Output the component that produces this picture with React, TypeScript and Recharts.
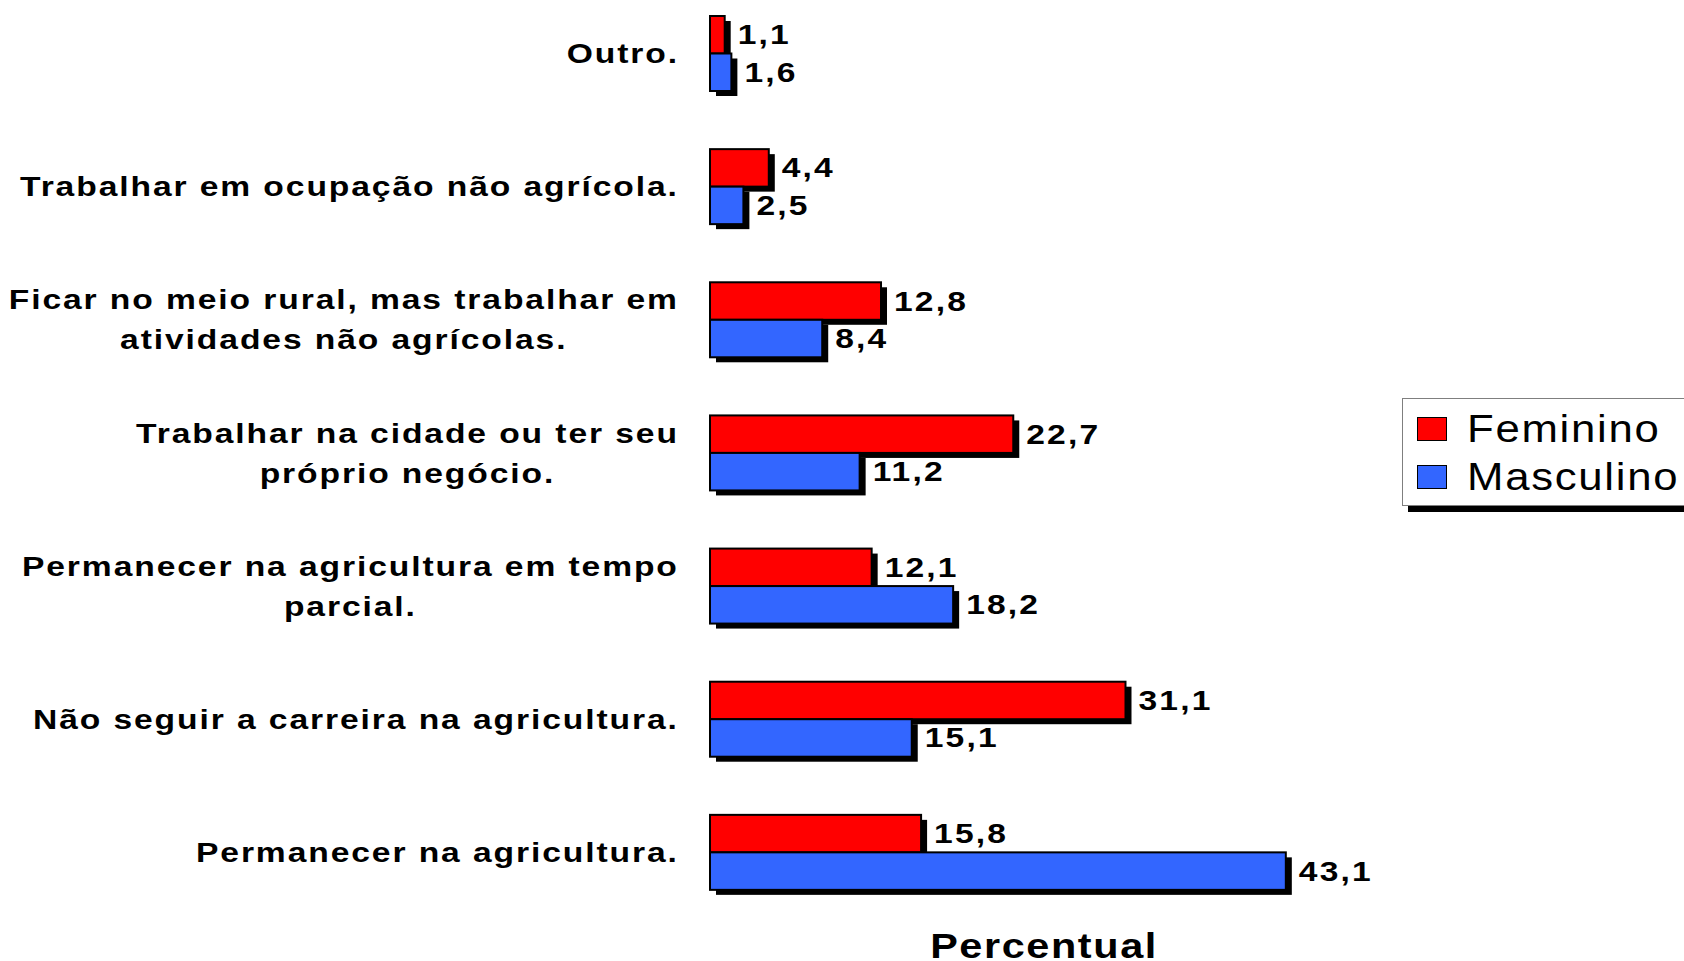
import { BarChart, Bar, XAxis, YAxis, Legend, LabelList } from "recharts";

const categories = [
  "Outro.",
  "Trabalhar em ocupação não agrícola.",
  "Ficar no meio rural, mas trabalhar em\natividades não agrícolas.",
  "Trabalhar na cidade ou ter seu\npróprio negócio.",
  "Permanecer na agricultura em tempo\nparcial.",
  "Não seguir a carreira na agricultura.",
  "Permanecer na agricultura.",
];
const feminino = [1.1, 4.4, 12.8, 22.7, 12.1, 31.1, 15.8];
const masculino = [1.6, 2.5, 8.4, 11.2, 18.2, 15.1, 43.1];

const data = categories.map((name, i) => ({
  name,
  Feminino: feminino[i],
  Masculino: masculino[i],
}));

const RED = "#ff0000";
const BLUE = "#3366ff";
const FONT = '"Liberation Sans", Arial, sans-serif';
const YAXIS_W = 710;
const LABEL_RIGHT = 679;
const TICK_SIZE = 28;
const TICK_SPACING = 1.6;
const STRETCH = 1.2;

let measureCtx: CanvasRenderingContext2D | null = null;
function textWidth(s: string) {
  if (!measureCtx) {
    measureCtx = document.createElement("canvas").getContext("2d");
  }
  if (!measureCtx) return s.length * 18;
  measureCtx.font = `bold ${TICK_SIZE}px ${FONT}`;
  (measureCtx as any).letterSpacing = `${TICK_SPACING}px`;
  return measureCtx.measureText(s).width * STRETCH;
}

function CategoryTick(props: any) {
  const { y, payload } = props;
  const lines = String(payload.value).split("\n");
  const w = Math.max(...lines.map(textWidth));
  const cx = LABEL_RIGHT - w / 2;
  const lineH = 40;
  const top = y - ((lines.length - 1) * lineH) / 2;
  return (
    <g>
      {lines.map((ln, i) => (
        <g key={i} transform={`translate(${cx},${top + i * lineH}) scale(${STRETCH},1)`}>
          <text
            x={0}
            y={0}
            textAnchor="middle"
            dominantBaseline="central"
            fontFamily={FONT}
            fontWeight="bold"
            fontSize={TICK_SIZE}
            letterSpacing={TICK_SPACING}
            fill="#000"
          >
            {ln}
          </text>
        </g>
      ))}
    </g>
  );
}

function ShadowBar(props: any) {
  const { x, y, width, height, fill } = props;
  if (width == null || height == null) return null;
  return (
    <g>
      <rect x={x + 6} y={y + 5} width={width} height={height} fill="#000" />
      <rect x={x} y={y} width={width} height={height} fill={fill} stroke="#000" strokeWidth={2} />
    </g>
  );
}

function ValueLabel(props: any) {
  const { x, y, width, height, value } = props;
  return (
    <g transform={`translate(${x + width + 13},${y + height / 2}) scale(${STRETCH},1)`}>
      <text
        x={0}
        y={0}
        dominantBaseline="central"
        fontFamily={FONT}
        fontWeight="bold"
        fontSize={28}
        letterSpacing={1.8}
        fill="#000"
      >
        {Number(value).toFixed(1).replace(".", ",")}
      </text>
    </g>
  );
}

function LegendBox() {
  const items = [
    { name: "Feminino", color: RED },
    { name: "Masculino", color: BLUE },
  ];
  return (
    <div
      style={{
        width: 300,
        height: 108,
        border: "1.5px solid #7f7f7f",
        background: "#fff",
        boxShadow: "6px 6px 0 #000",
        boxSizing: "border-box",
        paddingTop: 6,
      }}
    >
      {items.map((it) => (
        <div key={it.name} style={{ display: "flex", alignItems: "center", height: 48, paddingLeft: 14 }}>
          <div
            style={{
              width: 28,
              height: 22,
              background: it.color,
              border: "1.5px solid #000",
              marginRight: 20,
              flexShrink: 0,
            }}
          />
          <span
            style={{
              fontFamily: FONT,
              fontSize: 38,
              letterSpacing: 1.5,
              color: "#000",
              display: "inline-block",
              whiteSpace: "nowrap",
              transform: "scaleX(1.15)",
              transformOrigin: "left center",
            }}
          >
            {it.name}
          </span>
        </div>
      ))}
    </div>
  );
}

function AxisTitle(props: any) {
  const { viewBox } = props;
  return (
    <g transform={`translate(${viewBox.x + viewBox.width / 2},${viewBox.y + 39}) scale(1.15,1)`}>
      <text x={0} y={0} textAnchor="middle" fontFamily={FONT} fontWeight="bold" fontSize={36} letterSpacing={1.4} fill="#000">
        Percentual
      </text>
    </g>
  );
}

export default function App() {
  return (
    <div style={{ position: "absolute", left: 0, top: 0, width: 1684, height: 961, overflow: "hidden", background: "#fff" }}>
      <BarChart
        width={1684}
        height={961}
        data={data}
        layout="vertical"
        margin={{ top: -13, right: 306, bottom: 0, left: 0 }}
        barSize={37.5}
        barGap={0}
      >
        <XAxis type="number" domain={[0, 50]} tick={false} axisLine={false} tickLine={false} height={42} label={<AxisTitle />} />
        <YAxis
          type="category"
          dataKey="name"
          width={YAXIS_W}
          axisLine={false}
          tickLine={false}
          tick={<CategoryTick />}
          interval={0}
        />
        <Legend
          layout="horizontal"
          verticalAlign="middle"
          align="center"
          content={<LegendBox />}
          wrapperStyle={{ left: 1402, top: 398, width: 300 }}
        />
        <Bar dataKey="Feminino" fill={RED} shape={<ShadowBar />} isAnimationActive={false}>
          <LabelList dataKey="Feminino" content={<ValueLabel />} />
        </Bar>
        <Bar dataKey="Masculino" fill={BLUE} shape={<ShadowBar />} isAnimationActive={false}>
          <LabelList dataKey="Masculino" content={<ValueLabel />} />
        </Bar>
      </BarChart>
    </div>
  );
}
